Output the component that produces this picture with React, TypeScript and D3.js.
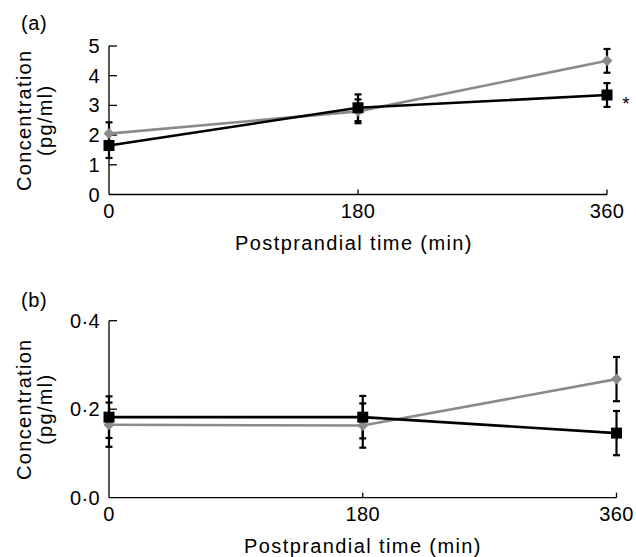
import React, { useEffect, useRef } from "react";
import * as d3 from "d3";

const times = [0, 180, 360];

// panel (a)
const aGrey = [2.05, 2.8, 4.5];
const aGreyErr = [0.38, 0.4, 0.4];
const aBlack = [1.65, 2.92, 3.35];
const aBlackErr = [0.42, 0.45, 0.4];
const aTicks = [0, 1, 2, 3, 4, 5];

// panel (b)
const bGrey = [0.165, 0.163, 0.268];
const bGreyErr = [0.05, 0.05, 0.05];
const bBlack = [0.182, 0.182, 0.146];
const bBlackErr = [0.047, 0.048, 0.05];
const bTicks = [0, 0.2, 0.4];

const FONT = "'Liberation Sans', Arial, sans-serif";

function App() {
  const ref = useRef<SVGSVGElement>(null);

  useEffect(() => {
    const svg = d3.select(ref.current);
    svg.selectAll("*").remove();

    const drawPanel = (opts: any) => {
      const g = svg.append("g");
      const x = d3.scaleLinear().domain([0, 360]).range([109, opts.xEnd]);
      const y = d3.scaleLinear().domain(opts.yDomain).range([opts.y0, opts.yTop]);

      // axes
      g.append("line")
        .attr("x1", x(0)).attr("x2", x(0))
        .attr("y1", y(opts.yDomain[1])).attr("y2", y(0))
        .attr("stroke", "#000").attr("stroke-width", 1.3);
      g.append("line")
        .attr("x1", x(0)).attr("x2", x(360))
        .attr("y1", y(0)).attr("y2", y(0))
        .attr("stroke", "#000").attr("stroke-width", 1.3);

      opts.ticks.forEach((t: number) => {
        if (t !== 0) {
          g.append("line")
            .attr("x1", x(0)).attr("x2", x(0) + 8)
            .attr("y1", y(t)).attr("y2", y(t))
            .attr("stroke", "#000").attr("stroke-width", 1.3);
        }
        g.append("text")
          .attr("x", x(0) - 9)
          .attr("y", y(t) + 7)
          .attr("text-anchor", "end")
          .attr("font-family", FONT)
          .attr("font-size", 20)
          .attr("letter-spacing", 0.4)
          .text(opts.fmt(t));
      });

      times.forEach((t) => {
        if (t !== 0) {
          g.append("line")
            .attr("x1", x(t)).attr("x2", x(t))
            .attr("y1", y(0)).attr("y2", y(0) - 5)
            .attr("stroke", "#000").attr("stroke-width", 1.3);
        }
        g.append("text")
          .attr("x", x(t))
          .attr("y", y(0) + 23)
          .attr("text-anchor", "middle")
          .attr("font-family", FONT)
          .attr("font-size", 20)
          .attr("letter-spacing", 0.4)
          .text(t);
      });

      g.append("text")
        .attr("x", opts.xlabelX)
        .attr("y", y(0) + 55)
        .attr("text-anchor", "middle")
        .attr("font-family", FONT)
        .attr("font-size", 20)
        .attr("letter-spacing", 1.4)
        .text("Postprandial time (min)");

      const midY = (y(0) + y(opts.yDomain[1])) / 2;
      g.append("text")
        .attr("transform", `translate(31,${midY}) rotate(-90)`)
        .attr("text-anchor", "middle")
        .attr("font-family", FONT)
        .attr("font-size", 20)
        .attr("letter-spacing", 1.3)
        .text("Concentration");
      g.append("text")
        .attr("transform", `translate(52,${midY}) rotate(-90)`)
        .attr("text-anchor", "middle")
        .attr("font-family", FONT)
        .attr("font-size", 20)
        .attr("letter-spacing", 1.3)
        .text("(pg/ml)");

      g.append("text")
        .attr("x", 21)
        .attr("y", opts.labelY)
        .attr("font-family", FONT)
        .attr("font-size", 20)
        .attr("letter-spacing", 0.6)
        .text(opts.label);

      const line = d3.line<number>()
        .x((_, i) => x(times[i]))
        .y((d) => y(d));

      const series = [
        { vals: opts.grey, err: opts.greyErr, color: "#8a8a8a", shape: "diamond" },
        { vals: opts.black, err: opts.blackErr, color: "#000", shape: "square" },
      ];

      // error bars
      series.forEach((s) => {
        s.vals.forEach((v: number, i: number) => {
          const cx = x(times[i]);
          const top = y(v + s.err[i]);
          const bot = y(v - s.err[i]);
          g.append("line")
            .attr("x1", cx).attr("x2", cx).attr("y1", top).attr("y2", bot)
            .attr("stroke", "#000").attr("stroke-width", 2.2);
          [top, bot].forEach((yy) => {
            g.append("line")
              .attr("x1", cx - 3.5).attr("x2", cx + 3.5).attr("y1", yy).attr("y2", yy)
              .attr("stroke", "#000").attr("stroke-width", 2.2);
          });
        });
      });

      series.forEach((s) => {
        g.append("path")
          .datum(s.vals)
          .attr("d", line)
          .attr("fill", "none")
          .attr("stroke", s.color)
          .attr("stroke-width", 2.6);
        s.vals.forEach((v: number, i: number) => {
          const cx = x(times[i]);
          const cy = y(v);
          if (s.shape === "square") {
            g.append("rect")
              .attr("x", cx - 5.5).attr("y", cy - 5.5)
              .attr("width", 11).attr("height", 11)
              .attr("fill", "#000");
          } else {
            g.append("path")
              .attr("d", `M${cx},${cy - 5.5}L${cx + 5.5},${cy}L${cx},${cy + 5.5}L${cx - 5.5},${cy}Z`)
              .attr("fill", s.color);
          }
        });
      });

      if (opts.star) {
        g.append("text")
          .attr("x", x(360) + 19)
          .attr("y", y(opts.black[2]) + 15)
          .attr("text-anchor", "middle")
          .attr("font-family", FONT)
          .attr("font-size", 19)
          .text("*");
      }
    };

    drawPanel({
      xEnd: 607,
      yDomain: [0, 5],
      y0: 194.5,
      yTop: 46,
      ticks: aTicks,
      fmt: (t: number) => String(t),
      grey: aGrey, greyErr: aGreyErr,
      black: aBlack, blackErr: aBlackErr,
      label: "(a)",
      labelY: 30,
      xlabelX: 354,
      star: true,
    });

    drawPanel({
      xEnd: 616.5,
      yDomain: [0, 0.4],
      y0: 497.7,
      yTop: 320.7,
      ticks: bTicks,
      fmt: (t: number) => t.toFixed(1).replace(".", "·"),
      grey: bGrey, greyErr: bGreyErr,
      black: bBlack, blackErr: bBlackErr,
      label: "(b)",
      labelY: 307,
      xlabelX: 363,
      star: false,
    });
  }, []);

  return (
    <svg
      ref={ref}
      width={636}
      height={557}
      style={{ position: "absolute", left: 0, top: 0, background: "#fff" }}
    />
  );
}

export default App;
